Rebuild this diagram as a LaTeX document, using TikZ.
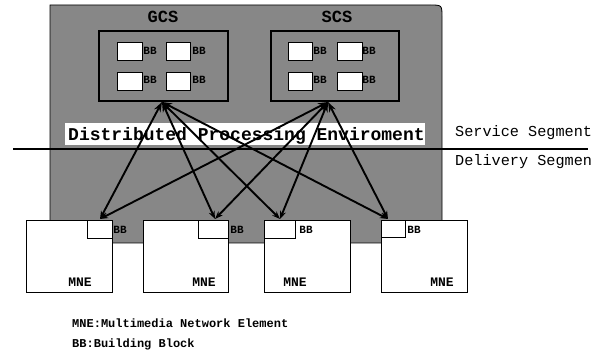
\documentclass[tikz,border=0pt]{standalone}
\usepackage{fontspec}
\setmonofont{Liberation Mono}
\usetikzlibrary{arrows.meta}
\begin{document}
\begin{tikzpicture}[x=1pt,y=-1pt,
  halftone/.style={fill=black!47},
  outline/.style={draw=black,line width=1.8pt},
  wbox/.style={draw=black,fill=white,line width=1.3pt,inner sep=0pt,anchor=north west},
  mnebox/.style={draw=black,fill=white,line width=1.2pt,inner sep=0pt,minimum width=86pt,minimum height=72pt,anchor=north west},
  smallbb/.style={draw=black,fill=white,line width=1.1pt,inner sep=0pt,minimum height=18pt},
  bbtxt/.style={font=\ttfamily\bfseries\fontsize{11}{12}\selectfont,inner sep=0pt},
  mnetxt/.style={font=\ttfamily\bfseries\fontsize{13}{14}\selectfont,inner sep=0pt},
  title/.style={font=\ttfamily\bfseries\fontsize{17}{18}\selectfont,inner sep=0pt},
  segtxt/.style={font=\ttfamily\fontsize{15.2}{16}\selectfont,inner sep=0pt,anchor=base west},
  legtxt/.style={font=\ttfamily\bfseries\fontsize{12}{13}\selectfont,inner sep=0pt,anchor=west},
  conn/.style={line width=1.9pt,{Stealth[length=10pt,width=7pt]}-{Stealth[length=8pt,width=6pt]}}
]
\useasboundingbox (0,0) rectangle (599,352);
% shaded processing environment
\path[halftone,draw=black,line width=0.8pt] (50,243) -- (50,5) -- (430,5) .. controls (442,5) .. (442,17) -- (442,243) -- cycle;
% white band
\node[fill=white,inner sep=0pt,minimum width=360pt,minimum height=22pt,anchor=north west] (band) at (65,123) {};
\node[font=\ttfamily\bfseries\fontsize{18}{20}\selectfont,inner sep=0pt,anchor=base west] (dpe) at (68,141) {Distributed Processing Enviroment};
% GCS
\node[title] (gcst) at (163,17) {GCS};
\node[outline,inner sep=0pt,minimum width=129pt,minimum height=70pt,anchor=north west] (gcs) at (98,30) {};
\node[wbox,minimum width=25pt,minimum height=18pt] (g1) at (117,42) {};
\node[wbox,minimum width=24pt,minimum height=18pt] (g2) at (166,42) {};
\node[wbox,minimum width=25pt,minimum height=18pt] (g3) at (117,72) {};
\node[wbox,minimum width=24pt,minimum height=18pt] (g4) at (166,72) {};
\node[bbtxt] (g1t) at (150,51) {BB};
\node[bbtxt] (g2t) at (199,51) {BB};
\node[bbtxt] (g3t) at (150,80) {BB};
\node[bbtxt] (g4t) at (199,80) {BB};
% SCS
\node[title] (scst) at (337,17) {SCS};
\node[outline,inner sep=0pt,minimum width=128pt,minimum height=70pt,anchor=north west] (scs) at (270,30) {};
\node[wbox,minimum width=24pt,minimum height=18pt] (s1) at (288,42) {};
\node[wbox,minimum width=25pt,minimum height=18pt] (s2) at (337,42) {};
\node[wbox,minimum width=24pt,minimum height=18pt] (s3) at (288,72) {};
\node[wbox,minimum width=25pt,minimum height=18pt] (s4) at (337,72) {};
\node[bbtxt] (s1t) at (320,51) {BB};
\node[bbtxt] (s2t) at (369,51) {BB};
\node[bbtxt] (s3t) at (320,80) {BB};
\node[bbtxt] (s4t) at (369,80) {BB};
% MNE boxes
\node[mnebox] (m1) at (26,220) {};
\node[mnebox,minimum width=85pt] (m2) at (143,220) {};
\node[mnebox] (m3) at (264,220) {};
\node[mnebox] (m4) at (381,220) {};
\node[smallbb,minimum width=25pt,anchor=north east] (b1) at (m1.north east) {};
\node[smallbb,minimum width=30pt,anchor=north east] (b2) at (m2.north east) {};
\node[smallbb,minimum width=31pt,anchor=north west] (b3) at (m3.north west) {};
\node[smallbb,minimum width=24pt,anchor=north west,minimum height=17pt] (b4) at (m4.north west) {};
\node[bbtxt] (b1t) at (120,230) {BB};
\node[bbtxt] (b2t) at (237,230) {BB};
\node[bbtxt] (b3t) at (306,230) {BB};
\node[bbtxt] (b4t) at (414,230) {BB};
\node[mnetxt] (m1t) at (80,282) {MNE};
\node[mnetxt] (m2t) at (204,282) {MNE};
\node[mnetxt] (m3t) at (295,282) {MNE};
\node[mnetxt] (m4t) at (442,282) {MNE};
% segment line and labels
\coordinate (hl) at (13,149);
\coordinate (hr) at (588,149);
\draw[line width=2.5pt] (hl) -- (hr);
\node[segtxt] (svc) at (455,137) {Service Segment};
\node[segtxt] (dlv) at (455,166) {Delivery Segmen};
% connectors
\coordinate (gh) at (162,102);
\coordinate (sh) at (328,102);
\coordinate (e1) at (100,219);
\coordinate (e2) at (215,219);
\coordinate (e3) at (280,219);
\coordinate (e4) at (388,219);
\foreach \h in {gh,sh}{
  \foreach \e in {e1,e2,e3,e4}{
    \draw[conn] (\h) -- (\e);
  }
}
% legend
\node[legtxt] (l1) at (72,323) {MNE:Multimedia Network Element};
\node[legtxt] (l2) at (72,344) {BB:Building Block};
\end{tikzpicture}
\end{document}
